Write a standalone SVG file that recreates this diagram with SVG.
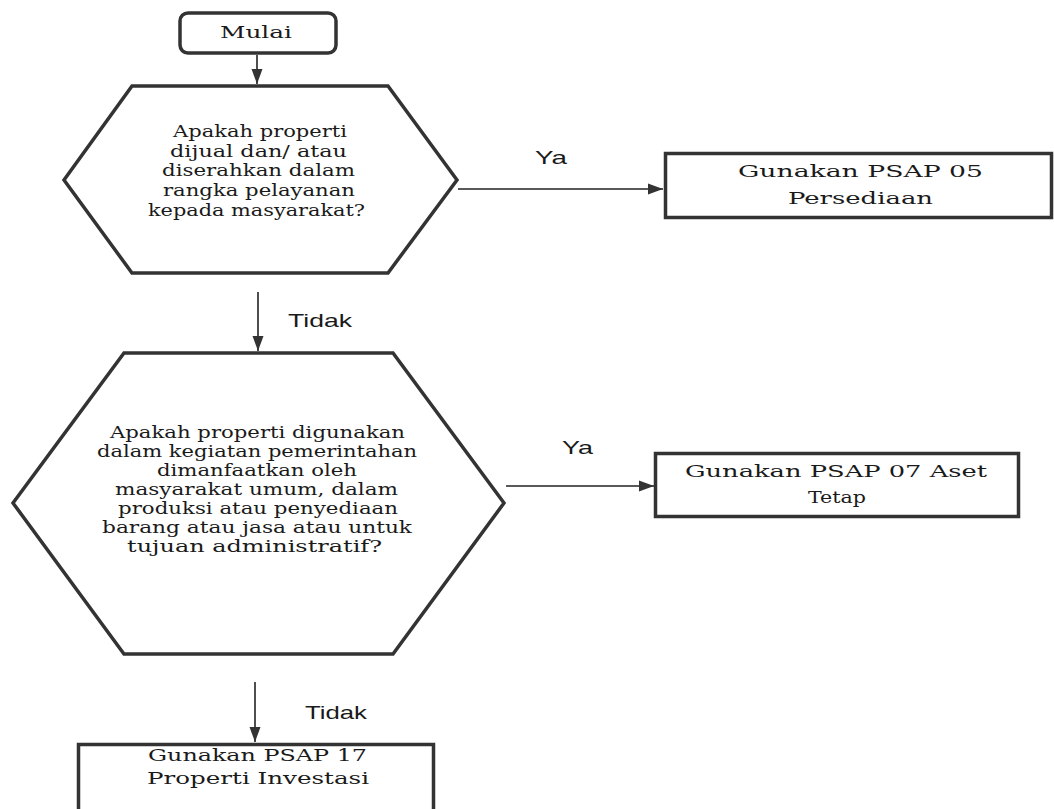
<svg xmlns="http://www.w3.org/2000/svg" width="1054" height="809" viewBox="0 0 1054 809">
<style>
.shape{fill:#fff;stroke:#333;stroke-width:3.5;stroke-linejoin:miter}
.srf{font-family:"DejaVu Serif","Liberation Serif",serif;font-size:16px;fill:#1a1a1a}
.bx{font-size:17px}
.lbl{font-family:"Liberation Sans",Arial,sans-serif;font-size:19px;fill:#1a1a1a}
.conn{stroke:#222;stroke-width:1.6;fill:none}
</style>
<defs>
<marker id="ah" markerUnits="userSpaceOnUse" markerWidth="16" markerHeight="12" refX="15" refY="6" orient="auto">
<path d="M0,0.5 L15,6 L0,11.5 z" fill="#333"/>
</marker>
</defs>
<rect width="1054" height="809" fill="#fff"/>

<g id="mulai">
<rect class="shape" x="180" y="13" width="156" height="40" rx="8"/>
<text class="srf" x="220" y="38" textLength="72" lengthAdjust="spacingAndGlyphs">Mulai</text>
</g>

<g id="q1">
<polygon class="shape" points="132,86 388,86 457,180 388,273 132,273 64,180"/>
<text class="srf" x="173" y="137" textLength="174" lengthAdjust="spacingAndGlyphs">Apakah properti</text>
<text class="srf" x="170" y="157" textLength="177" lengthAdjust="spacingAndGlyphs">dijual dan/ atau</text>
<text class="srf" x="162" y="176" textLength="193" lengthAdjust="spacingAndGlyphs">diserahkan dalam</text>
<text class="srf" x="163" y="196" textLength="192" lengthAdjust="spacingAndGlyphs">rangka pelayanan</text>
<text class="srf" x="148" y="216" textLength="217" lengthAdjust="spacingAndGlyphs">kepada masyarakat?</text>
</g>

<g id="psap05">
<rect class="shape" x="665.5" y="153.5" width="386" height="64"/>
<text class="srf bx" x="738" y="177" textLength="245" lengthAdjust="spacingAndGlyphs">Gunakan PSAP 05</text>
<text class="srf bx" x="788" y="204" textLength="145" lengthAdjust="spacingAndGlyphs">Persediaan</text>
</g>

<g id="q2">
<polygon class="shape" points="124,353 393,353 504,503 393,654 124,654 13,503"/>
<text class="srf" x="110" y="438" textLength="295" lengthAdjust="spacingAndGlyphs">Apakah properti digunakan</text>
<text class="srf" x="97" y="457" textLength="320" lengthAdjust="spacingAndGlyphs">dalam kegiatan pemerintahan</text>
<text class="srf" x="157" y="476" textLength="200" lengthAdjust="spacingAndGlyphs">dimanfaatkan oleh</text>
<text class="srf" x="115" y="495" textLength="283" lengthAdjust="spacingAndGlyphs">masyarakat umum, dalam</text>
<text class="srf" x="118" y="514" textLength="280" lengthAdjust="spacingAndGlyphs">produksi atau penyediaan</text>
<text class="srf" x="102" y="533" textLength="310" lengthAdjust="spacingAndGlyphs">barang atau jasa atau untuk</text>
<text class="srf" x="127" y="552" textLength="255" lengthAdjust="spacingAndGlyphs">tujuan administratif?</text>
</g>

<g id="psap07">
<rect class="shape" x="655.5" y="453.5" width="363" height="63"/>
<text class="srf bx" x="685" y="477" textLength="302" lengthAdjust="spacingAndGlyphs">Gunakan PSAP 07 Aset</text>
<text class="srf bx" x="808" y="503" textLength="58" lengthAdjust="spacingAndGlyphs">Tetap</text>
</g>

<g id="psap17">
<rect class="shape" x="78.5" y="744.5" width="355" height="80"/>
<text class="srf bx" x="148" y="761" textLength="219" lengthAdjust="spacingAndGlyphs">Gunakan PSAP 17</text>
<text class="srf bx" x="147" y="784" textLength="222" lengthAdjust="spacingAndGlyphs">Properti Investasi</text>
</g>

<g id="connectors">
<line class="conn" x1="257" y1="55" x2="257" y2="84" marker-end="url(#ah)"/>
<line class="conn" x1="458" y1="189" x2="663" y2="189" marker-end="url(#ah)"/>
<line class="conn" x1="258" y1="292" x2="258" y2="351" marker-end="url(#ah)"/>
<line class="conn" x1="506" y1="486" x2="654" y2="486" marker-end="url(#ah)"/>
<line class="conn" x1="255" y1="682" x2="255" y2="742" marker-end="url(#ah)"/>
<text class="lbl" x="535" y="164" textLength="32" lengthAdjust="spacingAndGlyphs">Ya</text>
<text class="lbl" x="288" y="327" textLength="64" lengthAdjust="spacingAndGlyphs">Tidak</text>
<text class="lbl" x="562" y="454" textLength="31" lengthAdjust="spacingAndGlyphs">Ya</text>
<text class="lbl" x="305" y="719" textLength="62" lengthAdjust="spacingAndGlyphs">Tidak</text>
</g>
</svg>
